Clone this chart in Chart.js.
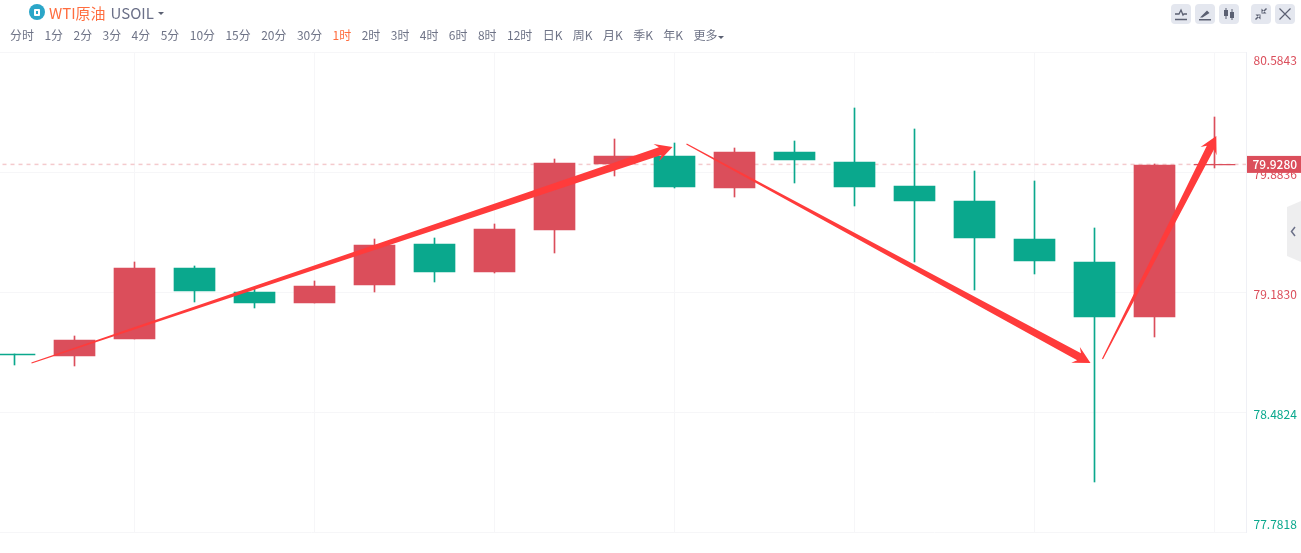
<!DOCTYPE html>
<html lang="zh">
<head>
<meta charset="utf-8">
<title>WTI原油 USOIL</title>
<script src="https://cdn.jsdelivr.net/npm/chart.js@4/dist/chart.umd.min.js"></script>
<style>
  html, body { margin: 0; padding: 0; background: #fff; overflow: hidden; }
  body { width: 1301px; height: 553px; position: relative; font-family: "Noto Sans CJK SC", "Noto Sans", sans-serif; }
  #coinChart { position: absolute; left: 0; top: 0; }
  .symbol { position: absolute; left: 29px; top: 0; height: 24px; display: flex; align-items: center; font-size: 15px; color: #6b7088; }
  .symbol .logo { width: 16px; height: 16px; border-radius: 50%; background: #2ba6c8; position: relative; margin-right: 4px; }
  .symbol .logo::after { content: ""; position: absolute; left: 5px; top: 4.5px; width: 6px; height: 7px; border-radius: 1px; background: #fff; box-shadow: inset 0 0 0 2px #fff, inset 0 0 0 3px #2ba6c8; }
  .symbol .name { color: #ff6d3f; margin-right: 5px; }
  .caret { display: inline-block; width: 0; height: 0; border-left: 3.5px solid transparent; border-right: 3.5px solid transparent; border-top: 3.5px solid #5b6072; }
  .symbol .caret { margin-left: 4px; margin-top: 2px; }
  .periods { position: absolute; left: 10px; top: 25px; height: 20px; display: flex; gap: 10.4px; font-size: 12px; line-height: 20px; color: #6f7487; white-space: nowrap; }
  .periods .active { color: #ff6d3f; }
  .periods .caret { margin-left: 1px; vertical-align: 1px; }
  .tools { position: absolute; top: 4px; width: 20px; height: 20px; border-radius: 4px; background: #e4e7ef; }
  .tools svg { display: block; width: 20px; height: 20px; }
  .side-tab { position: absolute; left: 1287px; top: 201px; width: 14px; height: 61px; background: #eeeeef; clip-path: polygon(0 10%, 100% 0, 100% 100%, 0 90%); }
  .side-tab svg { display: block; width: 14px; height: 61px; }
</style>
</head>
<body>
<canvas id="coinChart" width="1301" height="553"></canvas>

<div class="symbol">
  <span class="logo"></span><span class="name">WTI原油</span><span>USOIL</span><span class="caret"></span>
</div>
<div class="periods" id="periods"></div>

<div class="tools" style="left:1171px"><svg viewBox="0 0 20 20" fill="none" stroke="#5b6072" stroke-width="1.3"><path d="M4 15.500h12M4 10h4l2-4 2 5 1-1h3"/></svg></div>
<div class="tools" style="left:1195px"><svg viewBox="0 0 20 20"><path d="M4 15h12v1.500H4zM5 13.500l7-7 2.500 2.500-7 4.500z" fill="#5b6072"/></svg></div>
<div class="tools" style="left:1219px"><svg viewBox="0 0 20 20" fill="#5b6072"><path d="M5 6h4v6H5zM11 8h4v6h-4z"/><path d="M6.500 4h1v11h-1zM12.500 5h1v11h-1z"/></svg></div>
<div class="tools" style="left:1251px"><svg viewBox="0 0 20 20" fill="#5b6072"><path d="M11 8l4-4 1 1-4 4zM10.500 4.500v5h5zM9 12l-4 4-1-1 4-4zM9.500 15.500v-5h-5z"/></svg></div>
<div class="tools" style="left:1275px"><svg viewBox="0 0 20 20" fill="none" stroke="#5b6072" stroke-width="1.2"><path d="M4.500 4.500l11 11M15.500 4.500l-11 11"/></svg></div>
<div class="side-tab"><svg viewBox="0 0 14 61" fill="none" stroke="#6b7088" stroke-width="1.5"><path d="M8 26l-3.500 4.500L8 35"/></svg></div>

<script>
const periodLabels = ['分时', '1分', '2分', '3分', '4分', '5分', '10分', '15分', '20分', '30分', '1时', '2时', '3时', '4时', '6时', '8时', '12时', '日K', '周K', '月K', '季K', '年K', '更多'];
const activePeriod = '1时';

// candles left to right, prices
const opens  = [78.8211, 78.8095, 78.9087, 79.3232, 79.1831, 79.1189, 79.2240, 79.4633, 79.2999, 79.5451, 79.9304, 79.9771, 79.7903, 80.0005, 79.9421, 79.8020, 79.7144, 79.4925, 79.3583, 79.0371, 79.9250];
const closes = [78.8153, 78.9029, 79.3232, 79.1889, 79.1189, 79.2181, 79.4575, 79.2999, 79.5509, 79.9363, 79.9771, 79.7961, 80.0005, 79.9538, 79.7961, 79.7144, 79.4984, 79.3641, 79.0371, 79.9246, 79.9280];
const highs  = [78.8211, 78.9262, 79.3583, 79.3349, 79.2065, 79.2473, 79.4925, 79.4984, 79.5801, 79.9596, 80.0764, 80.0530, 80.0238, 80.0647, 80.2574, 80.1348, 79.8895, 79.8312, 79.5568, 79.9304, 80.2048];
const lows   = [78.7569, 78.7511, 78.9087, 79.1247, 79.0897, 79.1189, 79.1831, 79.2415, 79.2940, 79.4108, 79.8604, 79.7903, 79.7377, 79.8195, 79.6852, 79.3583, 79.1948, 79.2882, 78.0738, 78.9204, 79.9071];

const priceTicks = [80.5843, 79.8836, 79.1830, 78.4824, 77.7818];
const priceTickLabels = ['80.5843', '79.8836', '79.1830', '78.4824', '77.7818'];
const priceTickUp = [true, true, true, false, false];
const gridCandles = [2, 5, 8, 11, 14, 17, 20];
const lastPrice = 79.9280;

// hand drawn arrows on the chart: [candle index, price] at tail and tip
const arrowTails = [[0.2833, 78.7686], [11.2, 80.0472], [18.1333, 78.7919]];
const arrowTips  = [[10.9667, 80.0297], [17.9333, 78.7686], [20.03, 80.0939]];

const RED = '#db4e5b';
const GREEN = '#0aa88d';
const ARROW = '#ff3b3b';

document.getElementById('periods').innerHTML = periodLabels.map(p => {
  const cls = p === activePeriod ? ' class="active"' : '';
  const caret = p === '更多' ? '<span class="caret"></span>' : '';
  return `<span${cls}>${p}${caret}</span>`;
}).join('');

const candleColors = opens.map((o, i) => (closes[i] >= o ? RED : GREEN));

function drawArrow(ctx, x0, y0, x1, y1) {
  const len = Math.hypot(x1 - x0, y1 - y0);
  const ux = (x1 - x0) / len;
  const uy = (y1 - y0) / len;
  const nx = -uy;
  const ny = ux;
  const neck = 13;
  const shaft = 4;
  const head = 9;
  const bx = x1 - ux * neck;
  const by = y1 - uy * neck;
  const barbX = x1 - ux * (neck + 4);
  const barbY = y1 - uy * (neck + 4);

  ctx.beginPath();
  ctx.moveTo(x0 - nx * 0.6, y0 - ny * 0.6);
  ctx.lineTo(bx - nx * shaft, by - ny * shaft);
  ctx.lineTo(barbX - nx * head, barbY - ny * head);
  ctx.lineTo(x1, y1);
  ctx.lineTo(barbX + nx * head, barbY + ny * head);
  ctx.lineTo(bx + nx * shaft, by + ny * shaft);
  ctx.lineTo(x0 + nx * 0.6, y0 + ny * 0.6);
  ctx.closePath();
  ctx.fill();
}

const overlayPlugin = {
  id: 'overlay',
  afterDatasetsDraw(chart) {
    const { ctx, scales } = chart;
    ctx.save();
    ctx.fillStyle = ARROW;
    arrowTails.forEach((tail, i) => {
      const tip = arrowTips[i];
      drawArrow(ctx,
        scales.x.getPixelForValue(tail[0]), scales.y.getPixelForValue(tail[1]),
        scales.x.getPixelForValue(tip[0]), scales.y.getPixelForValue(tip[1]));
    });
    ctx.restore();
  },
  afterDraw(chart) {
    const { ctx, scales } = chart;
    const labelX = scales.y.left + 7.5;
    ctx.save();
    ctx.font = '12px "Noto Sans CJK SC", "Noto Sans", sans-serif';
    ctx.textAlign = 'left';
    ctx.textBaseline = 'middle';
    priceTicks.forEach((tick, i) => {
      let y = scales.y.getPixelForValue(tick) + 2;
      // the two outer labels stay inside the plot
      if (i === 0) y += 6;
      if (i === priceTicks.length - 1) y -= 10;
      ctx.fillStyle = priceTickUp[i] ? RED : GREEN;
      ctx.fillText(priceTickLabels[i], labelX, y);
    });

    const lastY = scales.y.getPixelForValue(lastPrice);
    ctx.fillStyle = RED;
    ctx.fillRect(scales.y.left + 1, lastY - 8.5, 54, 17);
    ctx.fillStyle = '#fff';
    ctx.font = '500 12px "Noto Sans CJK SC", "Noto Sans", sans-serif';
    ctx.fillText(lastPrice.toFixed(4), labelX - 1, lastY + 0.5);
    ctx.restore();
  }
};

new Chart(document.getElementById('coinChart').getContext('2d'), {
  data: {
    datasets: [
      {
        type: 'bar',
        label: 'body',
        order: 1,
        data: opens.map((o, i) => ({ x: i, y: [o, closes[i]] })),
        backgroundColor: candleColors,
        barThickness: 41,
        grouped: false
      },
      {
        type: 'bar',
        label: 'wick',
        order: 2,
        data: highs.map((h, i) => ({ x: i, y: [lows[i], h] })),
        backgroundColor: candleColors,
        barThickness: 1,
        grouped: false
      },
      {
        type: 'line',
        label: 'last',
        order: 3,
        data: [{ x: -1, y: lastPrice }, { x: 22, y: lastPrice }],
        borderColor: 'rgba(219, 78, 91, 0.3)',
        borderWidth: 1.5,
        borderDash: [4, 4],
        pointRadius: 0
      }
    ]
  },
  options: {
    responsive: false,
    animation: false,
    layout: { padding: { top: 52, bottom: 21 } },
    plugins: { legend: { display: false }, tooltip: { enabled: false } },
    scales: {
      x: {
        type: 'linear',
        min: -14.5 / 60,
        max: 1231.5 / 60,
        offset: false,
        border: { display: false },
        afterBuildTicks: scale => { scale.ticks = gridCandles.map(v => ({ value: v })); },
        afterFit: scale => { scale.height = 0; },
        ticks: { display: false },
        grid: { color: '#f6f6f8', drawTicks: false, offset: false }
      },
      y: {
        position: 'right',
        min: priceTicks[priceTicks.length - 1],
        max: priceTicks[0],
        border: { color: '#eff0f5' },
        afterBuildTicks: scale => { scale.ticks = priceTicks.map(v => ({ value: v })); },
        afterFit: scale => { scale.width = 55; },
        ticks: { display: false },
        grid: { color: '#f6f6f8', drawTicks: false }
      }
    }
  },
  plugins: [overlayPlugin]
});
</script>
</body>
</html>
